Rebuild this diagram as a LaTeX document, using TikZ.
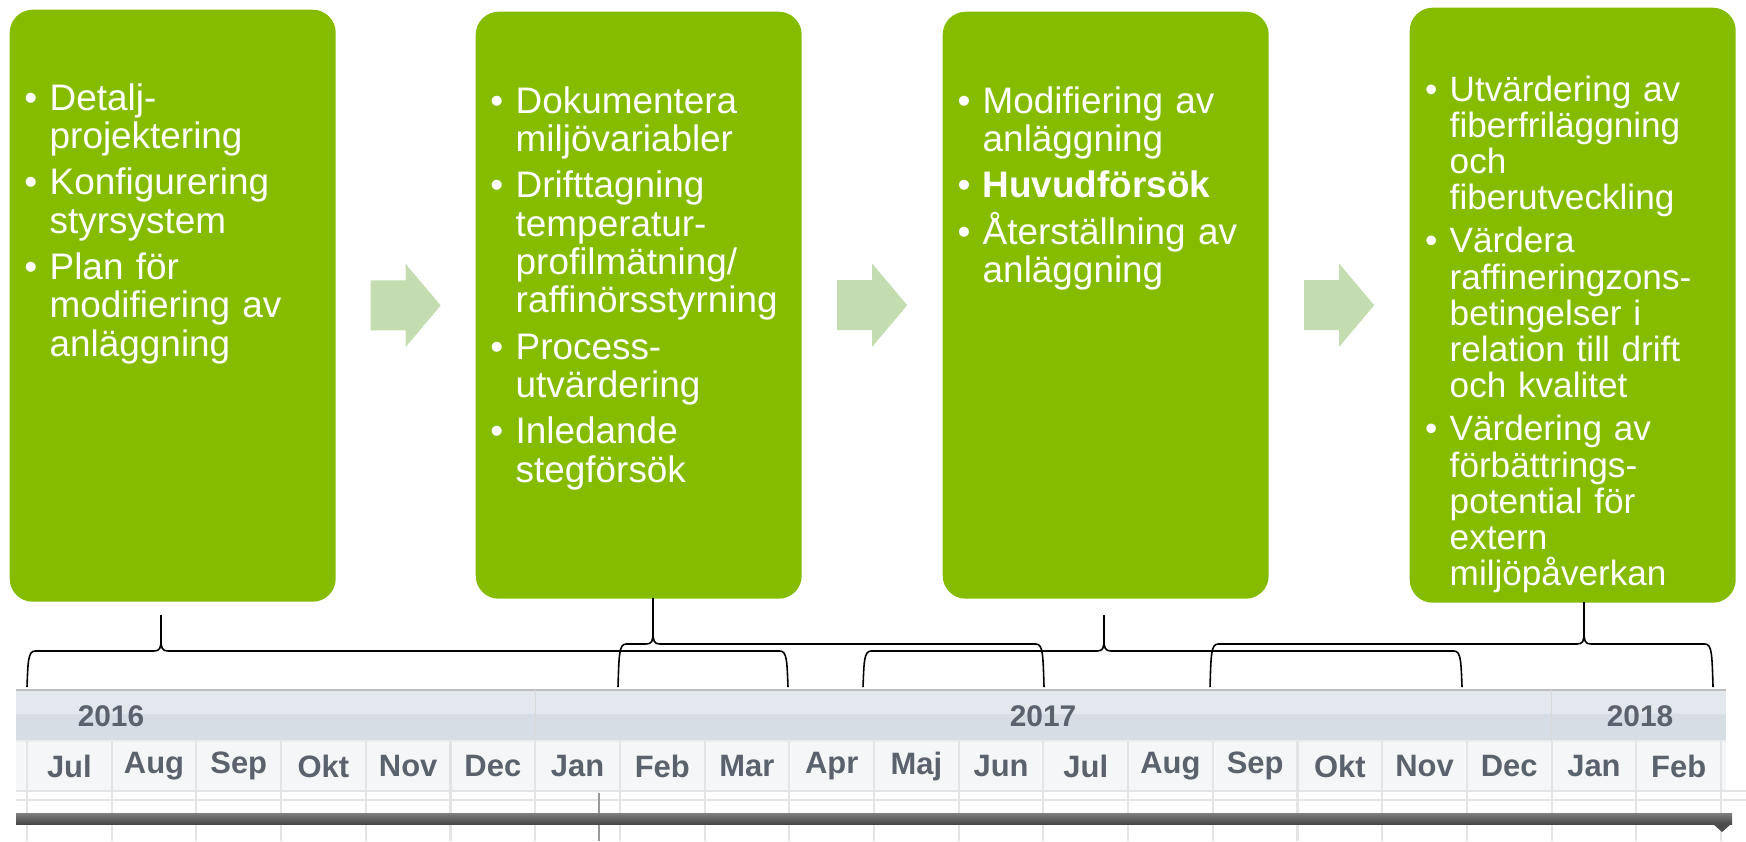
\documentclass[tikz,border=0pt]{standalone}
\usepackage{fontspec}
\setmainfont{Liberation Sans}
\usetikzlibrary{calc, positioning}
\definecolor{phaseGreen}{HTML}{86BC00}
\definecolor{flowGreen} {HTML}{C4DDB0}
\definecolor{yearTop}   {HTML}{E3E8EE}
\definecolor{yearBot}   {HTML}{D6DDE5}
\definecolor{monthFill} {HTML}{F5F6F7}
\definecolor{gridGray}  {HTML}{E2E4E6}
\definecolor{headText}  {HTML}{5A626D}
\tikzset{
  phase/.style = {rectangle, rounded corners=2.3mm, fill=phaseGreen,
                  minimum width=32.6mm, inner sep=0pt, anchor=north west},
  pts/.style   = {anchor=base west, inner sep=0pt, text=white, text width=29mm,
                  align=left, font=\fontsize{10.5}{10.9}\selectfont},
  flow/.style  = {fill=flowGreen},
  brace/.style = {line width=0.45pt, black},
  monthlbl/.style = {font=\fontsize{8.8}{10}\selectfont\bfseries, text=headText},
  yearlbl/.style  = {font=\fontsize{8.5}{10}\selectfont\bfseries, text=headText},
}
\newcommand{\bl}{\leavevmode\llap{\textbullet\hspace{3.5pt}}}

\begin{document}
\begin{tikzpicture}[x=0.1mm, y=-0.1mm]
  \useasboundingbox (0,0) rectangle (1746,841);

  % ---- phase boxes ----
  \node[phase, minimum height=59.2mm] (p1) at (9,9)    {};
  \node[phase, minimum height=58.7mm] (p2) at (475,11) {};
  \node[phase, minimum height=58.7mm] (p3) at (942,11) {};
  \node[phase, minimum height=59.5mm] (p4) at (1409,7) {};

  \node[pts] (t1) at ($(p1.north west)+(40,101)$)
    {\bl Detalj-\\projektering%
     \\[2.3pt]\bl Konfigurering\\styrsystem%
     \\[2.3pt]\bl Plan för\\modifiering av\\anläggning};
  \node[pts] (t2) at ($(p2.north west)+(40,102)$)
    {\bl Dokumentera\\miljövariabler%
     \\[2.3pt]\bl Drifttagning\\temperatur-\\profilmätning/\\raffinörsstyrning%
     \\[2.3pt]\bl Process-\\utvärdering%
     \\[2.3pt]\bl Inledande\\stegförsök};
  \node[pts] (t3) at ($(p3.north west)+(40,102)$)
    {\bl Modifiering av\\anläggning%
     \\[2.3pt]\bl \textbf{Huvudförsök}%
     \\[2.3pt]\bl Återställning av\\anläggning};
  \node[pts, font=\fontsize{10}{10.3}\selectfont] (t4) at ($(p4.north west)+(40,94)$)
    {\bl Utvärdering av\\fiberfriläggning\\och\\fiberutveckling%
     \\[2pt]\bl Värdera\\raffineringzons-\\betingelser i\\relation till drift\\och kvalitet%
     \\[2pt]\bl Värdering av\\förbättrings-\\potential för\\extern\\miljöpåverkan};

  % ---- block arrows between phases ----
  \foreach \a/\b [count=\k] in {p1/p2, p2/p3, p3/p4} {
    \coordinate (f\k) at ($(\a.east)!.5!(\b.west)$);
    \fill[flow] ($(f\k)+(-35,-25)$) -- ++(35,0) -- ++(0,-16.5) -- ++(35,41.5)
                -- ++(-35,41.5) -- ++(0,-16.5) -- ++(-35,0) -- cycle;
  }

  % ---- time line header ----
  \fill[yearTop]   (16,690) rectangle (1726,714);
  \fill[yearBot]   (16,714) rectangle (1726,741);
  \fill[monthFill] (16,741) rectangle (1726,791);
  \draw[black!25, line width=0.5pt] (16,690) -- (1726,690);
  \draw[white!85!gray] (16,741) -- (1726,741);
  \foreach \i in {6,18}
    \draw[black!15] ({27+84.7*\i},690) -- ({27+84.7*\i},741);
  \foreach \i in {0,...,20}
    \draw[gridGray, line width=0.6pt] ({27+84.7*\i},741) -- ({27+84.7*\i},841);
  \draw[gridGray, line width=0.6pt] (16,791) -- (1746,791);
  \draw[gridGray, line width=0.6pt] (16,800) -- (1746,800);

  \node[yearlbl] (y16) at (111,716)  {2016};
  \node[yearlbl] (y17) at (1043,716) {2017};
  \node[yearlbl] (y18) at (1640,716) {2018};
  \foreach \m [count=\i from 0] in {Jul,Aug,Sep,Okt,Nov,Dec,Jan,Feb,Mar,Apr,
                                    Maj,Jun,Jul,Aug,Sep,Okt,Nov,Dec,Jan,Feb}
    \node[monthlbl] (m\i) at ({69.35+84.7*\i},766) {\m};

  % today marker and scroll bar
  \draw[black!40, line width=0.6pt] (599,793) -- (599,841);
  \shade[top color=black!50, bottom color=black!72] (16,813) rectangle (1732,824);
  \fill[black!70] (1713,824) -- (1731,824) -- (1722,832) -- cycle;

  % ---- braces from each phase down to its months ----
  \foreach \l/\t/\r/\h/\top in {27/161/788/651/615, 618/653/1044/644/598,
                                863/1104/1462/651/615, 1210/1584/1713/644/602} {
    \draw[brace] (\l,687) .. controls (\l+1,\h+11) and (\l+1,\h) .. (\l+8,\h)
      -- (\t-7,\h) .. controls (\t-1,\h) and (\t,\h-3) .. (\t,\h-12) -- (\t,\top);
    \draw[brace] (\t,\top) -- (\t,\h-12) .. controls (\t,\h-3) and (\t+1,\h) .. (\t+7,\h)
      -- (\r-8,\h) .. controls (\r-1,\h) and (\r-1,\h+11) .. (\r,687);
  }
\end{tikzpicture}
\end{document}
